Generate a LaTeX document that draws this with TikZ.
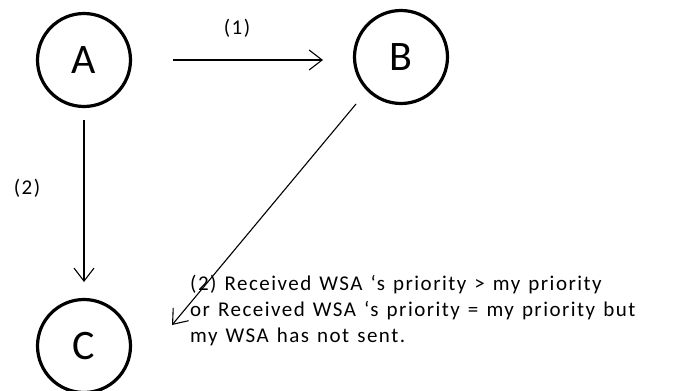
\documentclass[tikz,border=0pt]{standalone}
\usepackage{fontspec}
\setmainfont{Carlito}
\newfontfamily\widefont[LetterSpace=7,WordSpace=1.3]{Carlito}
\usetikzlibrary{arrows.meta}
\begin{document}
\begin{tikzpicture}[x=1pt,y=-1pt,
  state/.style={draw,circle,line width=3.2pt,minimum size=93pt,inner sep=0pt,font=\fontsize{42}{42}\selectfont},
  link/.style={line width=1.1pt,-{Straight Barb[length=13pt,width=20pt,line width=1.1pt]}},
  tag/.style={font=\widefont\fontsize{21}{24}\selectfont}]
\useasboundingbox (0,0) rectangle (675,391);
\node[state] (A) at (84,60) {A};
\node[state] (B) at (401,57) {B};
\node[state] (C) at (84,346) {\raisebox{-5pt}{C}};
\coordinate (a1) at (173,60);
\coordinate (a2) at (323,60);
\draw[link] (a1) -- (a2);
\node[tag] (l1) at (237,28) {(1)};
\coordinate (b1) at (84,120);
\coordinate (b2) at (84,282);
\draw[link] (b1) -- (b2);
\node[tag] (l2) at (27,188) {(2)};
\coordinate (c1) at (356,104);
\coordinate (c2) at (172,325);
\draw[link] (c1) -- (c2);
\node[anchor=north west,align=left,inner sep=0pt,font=\widefont\fontsize{21}{26}\selectfont] (t) at (190,275)
  {(2) Received WSA ‘s priority > my priority\\
   or Received WSA ‘s priority = my priority but\\
   my WSA has not sent.};
\end{tikzpicture}
\end{document}
